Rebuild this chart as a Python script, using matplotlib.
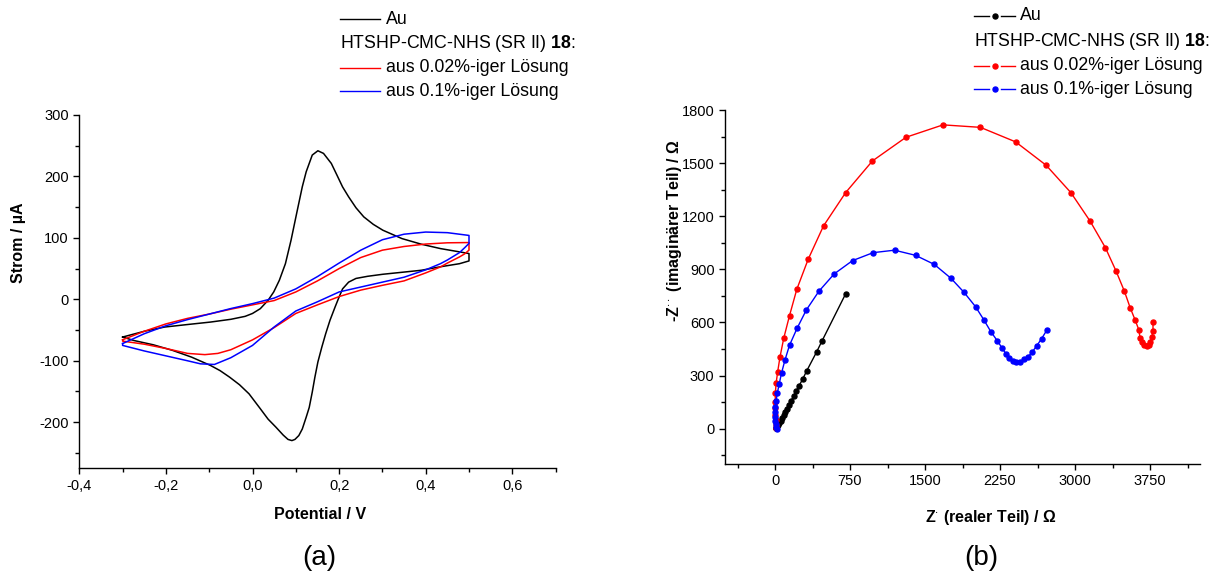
import matplotlib
matplotlib.use("Agg")
import matplotlib.pyplot as plt
from matplotlib.lines import Line2D
from matplotlib.ticker import MultipleLocator, FuncFormatter

plt.rcParams['font.family'] = ['Liberation Sans', 'DejaVu Sans']
plt.rcParams['mathtext.fontset'] = 'custom'
plt.rcParams['mathtext.rm'] = 'Liberation Sans'
plt.rcParams['mathtext.bf'] = 'Liberation Sans:bold'
plt.rcParams['mathtext.default'] = 'regular'
plt.rcParams['axes.unicode_minus'] = False

# ---------------- cyclic voltammetry (potential in V, current in uA) ----------------
cv_au_e = [-0.300, -0.250, -0.203, -0.150, -0.097, -0.050, -0.017, 0.000, 0.018, 0.036,
           0.049, 0.062, 0.076, 0.089, 0.102, 0.115, 0.124, 0.138, 0.151, 0.164, 0.182,
           0.195, 0.208, 0.222, 0.239, 0.257, 0.279, 0.301, 0.345, 0.390, 0.434, 0.480, 0.500,
           0.500, 0.478, 0.434, 0.390, 0.345, 0.301, 0.266, 0.239, 0.222, 0.208, 0.200,
           0.191, 0.179, 0.169, 0.160, 0.151, 0.144, 0.138, 0.131, 0.124, 0.115, 0.107,
           0.098, 0.091, 0.082, 0.071, 0.054, 0.036, 0.018, -0.008, -0.030, -0.053, -0.075,
           -0.097, -0.141, -0.185, -0.229, -0.274, -0.300]
cv_au_i = [-61.4, -52.0, -45.1, -41.0, -37.0, -32.5, -27.7, -23.0, -15.2, -1.6,
           12.0, 31.0, 58.0, 96.2, 140.0, 183.2, 207.6, 234.8, 241.8, 237.5, 221.2,
           202.2, 183.0, 166.8, 149.0, 134.2, 122.0, 112.5, 98.9, 89.7, 82.6, 77.0, 74.5,
           62.5, 58.0, 53.0, 47.3, 44.0, 40.8, 37.5, 34.0, 28.0, 17.0, 3.8,
           -12.0, -34.0, -56.0, -78.0, -102.0, -127.0, -151.0, -176.0, -191.8, -211.0, -221.7,
           -228.0, -229.9, -228.0, -221.0, -208.0, -195.0, -178.0, -153.8, -139.0, -126.6, -116.0,
           -107.6, -94.0, -83.0, -74.0, -67.0, -61.4]

cv_002_e = [-0.30, -0.25, -0.20, -0.15, -0.10, -0.05, 0.00, 0.05, 0.10, 0.15, 0.20, 0.25,
            0.30, 0.35, 0.40, 0.45, 0.50,
            0.50, 0.49, 0.478, 0.45, 0.434, 0.40, 0.35, 0.30, 0.25, 0.20, 0.15, 0.10, 0.05,
            0.00, -0.05, -0.08, -0.11, -0.15, -0.20, -0.25, -0.30, -0.30]
cv_002_i = [-65.8, -52.0, -40.0, -31.0, -24.0, -16.0, -9.0, -2.0, 12.0, 30.0, 50.0, 68.0,
            80.0, 86.0, 90.0, 92.0, 92.4,
            80.0, 74.0, 69.0, 59.0, 52.7, 43.0, 30.0, 22.8, 15.0, 4.5, -9.0, -23.0, -46.0,
            -66.0, -82.0, -88.0, -90.0, -88.0, -80.0, -73.0, -68.0, -65.8]

cv_01_e = [-0.30, -0.25, -0.20, -0.15, -0.10, -0.05, 0.00, 0.05, 0.10, 0.15, 0.20, 0.25,
           0.30, 0.35, 0.40, 0.45, 0.50,
           0.50, 0.49, 0.478, 0.45, 0.434, 0.40, 0.35, 0.30, 0.25, 0.20, 0.15, 0.10, 0.05,
           0.00, -0.05, -0.088, -0.12, -0.15, -0.20, -0.25, -0.30, -0.30]
cv_01_i = [-72.0, -56.0, -43.0, -33.0, -24.0, -15.0, -7.0, 2.0, 17.0, 37.0, 59.0, 80.0,
           97.0, 106.0, 109.5, 108.5, 104.0,
           91.0, 84.0, 76.0, 64.0, 58.0, 48.0, 36.0, 28.0, 20.0, 12.0, -4.0, -19.0, -45.0,
           -75.0, -95.0, -106.0, -105.0, -100.0, -92.0, -84.0, -75.0, -72.0]

cv_xticks = [-0.4, -0.2, 0.0, 0.2, 0.4, 0.6]

# ---------------- impedance spectra (Nyquist, Ohm) ----------------
eis_au_re = [6, 12, 20, 30, 42, 55, 70, 85, 100, 120, 140, 160, 185, 210, 240, 279, 317, 416, 470, 706]
eis_au_im = [1, 5, 12, 22, 33, 45, 60, 75, 92, 110, 132, 155, 183, 210, 241, 282, 326, 433, 495, 761]

eis_002_re = [10, 8, 5, 3, 2, 2, 4, 11, 27, 50, 88, 145, 218, 332, 485, 706, 974, 1310, 1680,
              2054, 2406, 2711, 2959, 3150, 3303, 3410, 3494, 3551, 3601, 3639, 3650, 3670,
              3693, 3719, 3735, 3750, 3769, 3780, 3780]
eis_002_im = [4, 21, 49, 77, 115, 153, 203, 256, 322, 405, 512, 638, 787, 957, 1145, 1333, 1512,
              1646, 1716, 1702, 1620, 1488, 1333, 1173, 1023, 891, 776, 684, 614, 557, 514, 488,
              473, 467, 473, 488, 516, 554, 601]

eis_01_re = [15, 10, 5, 2, 1, 2, 4, 11, 23, 42, 65, 99, 145, 221, 313, 439, 592, 775, 981, 1195,
             1405, 1592, 1760, 1890, 2005, 2089, 2158, 2222, 2272, 2310, 2341, 2375, 2413, 2452,
             2494, 2532, 2570, 2616, 2665, 2719]
eis_01_im = [0, 8, 24, 43, 68, 96, 124, 158, 200, 252, 313, 386, 471, 567, 670, 776, 874, 949,
             994, 1008, 979, 928, 849, 770, 689, 614, 548, 497, 454, 422, 397, 382, 375, 379,
             392, 407, 431, 467, 507, 557]

legend_labels = ["Au", "aus 0.02%-iger Lösung", "aus 0.1%-iger Lösung"]
group_label = r"HTSHP-CMC-NHS (SR II) $\mathbf{18}$:"
colors = ["#000000", "#ff0000", "#0000ff"]

W, H = 1228, 573
fig = plt.figure(figsize=(W / 100, H / 100), dpi=100)


def fx(px):
    return px / W


def fy(py):
    return 1 - py / H


def style_axes(ax):
    for s in ("top", "right"):
        ax.spines[s].set_visible(False)
    for s in ("left", "bottom"):
        ax.spines[s].set_linewidth(1.0)
    ax.tick_params(which="both", direction="out", width=1.0, labelsize=10.5)
    ax.tick_params(which="major", length=4.5, pad=3.0)
    ax.tick_params(which="minor", length=2.8)


# ---- (a) cyclic voltammograms ----
ax1 = fig.add_axes([fx(79.3), fy(468.3), (555.6 - 79.3) / W, (468.3 - 115) / H])
style_axes(ax1)
for e, i, c in zip([cv_au_e, cv_002_e, cv_01_e], [cv_au_i, cv_002_i, cv_01_i], colors):
    ax1.plot(e, i, color=c, lw=1.1, solid_joinstyle="round")
ax1.set_xlim(-0.4, 0.7)
ax1.set_ylim(-275, 300)
ax1.set_xticks(cv_xticks)
ax1.xaxis.set_minor_locator(MultipleLocator(0.1))
ax1.yaxis.set_major_locator(MultipleLocator(100))
ax1.yaxis.set_minor_locator(MultipleLocator(50))
ax1.xaxis.set_major_formatter(FuncFormatter(lambda v, p: f"{v:.1f}".replace(".", ",")))
ax1.yaxis.set_major_formatter(FuncFormatter(lambda v, p: f"{v:.0f}"))
ax1.set_xlabel("Potential / V", fontsize=11.5, fontweight="bold")
ax1.set_ylabel("Strom / µA", fontsize=11.5, fontweight="bold")
ax1.xaxis.label.set_va("center")
ax1.yaxis.label.set_va("center")
ax1.xaxis.set_label_coords(0.505, -0.132)
ax1.yaxis.set_label_coords(-0.127, 0.638)

# ---- (b) Nyquist plots ----
ax2 = fig.add_axes([fx(725), fy(464), (1200 - 725) / W, (464 - 110) / H])
style_axes(ax2)
for re_, im_, c in zip([eis_au_re, eis_002_re, eis_01_re],
                       [eis_au_im, eis_002_im, eis_01_im], colors):
    ax2.plot(re_, im_, color=c, lw=1.0, marker="o", ms=3.6, mec=c, mfc=c)
ax2.set_xlim(-500, 4250)
ax2.set_ylim(-200, 1800)
ax2.xaxis.set_major_locator(MultipleLocator(750))
ax2.xaxis.set_minor_locator(MultipleLocator(375))
ax2.yaxis.set_major_locator(MultipleLocator(300))
ax2.yaxis.set_minor_locator(MultipleLocator(150))
ax2.xaxis.set_major_formatter(FuncFormatter(lambda v, p: f"{v:.0f}"))
ax2.yaxis.set_major_formatter(FuncFormatter(lambda v, p: f"{v:.0f}"))
ax2.set_xlabel(r"Z$^{\cdot}$ (realer Teil) / Ω", fontsize=11.5, fontweight="bold")
ax2.set_ylabel(r"-Z$^{\cdot\cdot}$ (imaginärer Teil) / Ω", fontsize=11.5, fontweight="bold")
ax2.xaxis.label.set_va("center")
ax2.yaxis.label.set_va("center")
ax2.xaxis.set_label_coords(0.56, -0.150)
ax2.yaxis.set_label_coords(-0.107, 0.658)

# ---- legends ----
LEG_FS = 12.8


def draw_legend(x0, x1, xt, rows, with_marker):
    ys = [rows[0], rows[2], rows[3]]
    for y, lab, c in zip(ys, legend_labels, colors):
        if with_marker:
            xm = (x0 + x1) / 2
            fig.add_artist(Line2D([fx(x0), fx(xm - 6)], [fy(y), fy(y)], color=c, lw=1.0))
            fig.add_artist(Line2D([fx(xm + 6), fx(x1)], [fy(y), fy(y)], color=c, lw=1.0))
            fig.add_artist(Line2D([fx(xm)], [fy(y)], color=c, marker="o", ms=3.6, lw=0))
        else:
            fig.add_artist(Line2D([fx(x0), fx(x1)], [fy(y), fy(y)], color=c, lw=1.0))
        fig.text(fx(xt), fy(y), lab, fontsize=LEG_FS, va="center", ha="left")
    fig.text(fx(x0), fy(rows[1]), group_label, fontsize=LEG_FS, va="center", ha="left")


draw_legend(340, 380, 386, [19, 44, 68, 91], False)
draw_legend(974, 1015, 1020, [16, 42, 66, 89], True)

# ---- panel captions ----
fig.text(fx(319), fy(558), "(a)", fontsize=20, ha="center", va="center")
fig.text(fx(981), fy(558), "(b)", fontsize=20, ha="center", va="center")

fig.savefig("out.png", dpi=100)
